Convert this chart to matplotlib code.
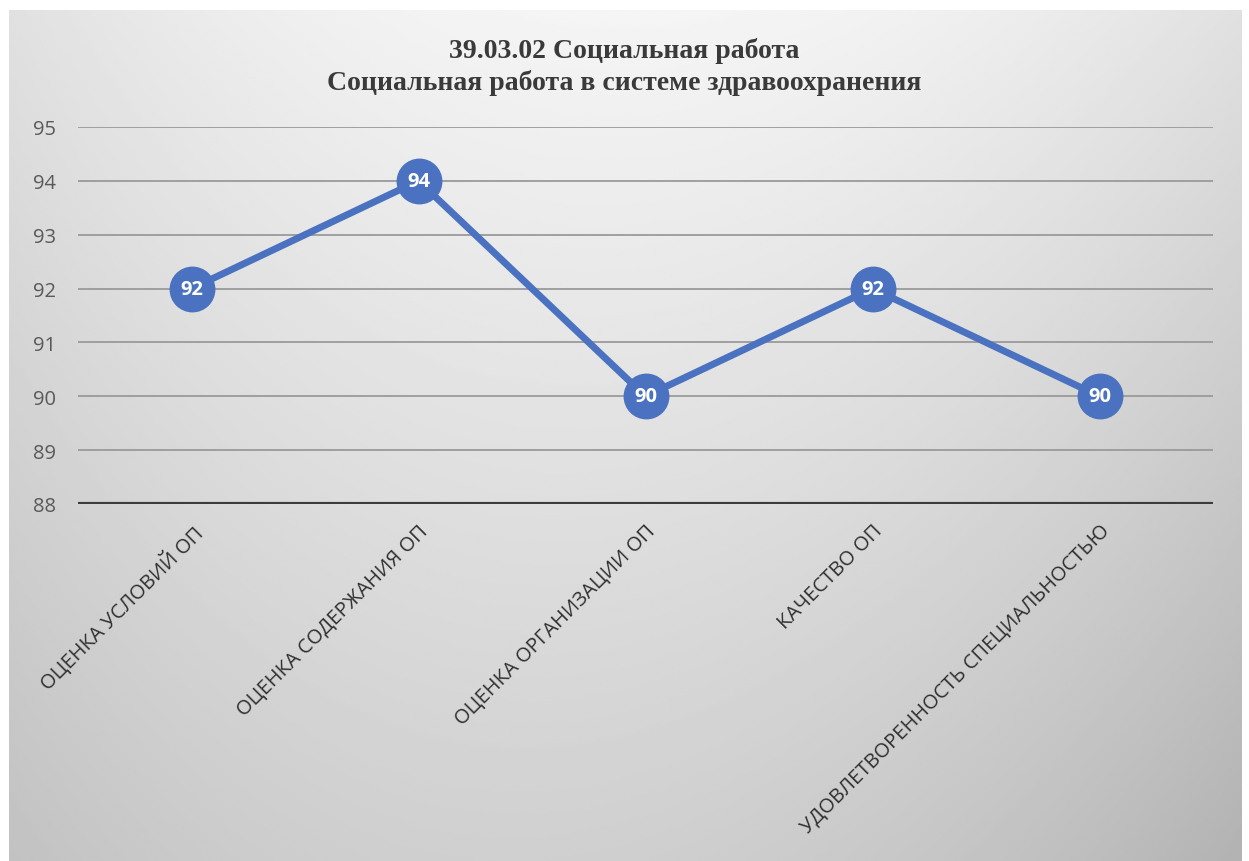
import numpy as np
import matplotlib
matplotlib.use("Agg")
import matplotlib.pyplot as plt

TITLE = "39.03.02 Социальная работа\nСоциальная работа в системе здравоохранения"
CATEGORIES = [
    "ОЦЕНКА УСЛОВИЙ ОП",
    "ОЦЕНКА СОДЕРЖАНИЯ ОП",
    "ОЦЕНКА ОРГАНИЗАЦИИ ОП",
    "КАЧЕСТВО ОП",
    "УДОВЛЕТВОРЕННОСТЬ СПЕЦИАЛЬНОСТЬЮ",
]
VALUES = [92, 94, 90, 92, 90]
Y_TICKS = [88, 89, 90, 91, 92, 93, 94, 95]

W, H = 1249, 862
fig = plt.figure(figsize=(W / 100, H / 100), dpi=100)
fig.patch.set_facecolor("white")

# scanned-paper panel: light in the top centre, greyer towards edges and bottom
bg = fig.add_axes([9 / W, 0, (1242 - 9) / W, 1 - 11 / H])
gx, gy = np.meshgrid(np.linspace(-1, 1, 400), np.linspace(0, 1, 300))
shade = 0.96 - 0.08 * gx ** 2 - 0.12 * gy - 0.03 * gy * (gx + 1)
bg.imshow(shade, cmap="gray", vmin=0, vmax=1, aspect="auto", extent=[0, 1, 0, 1],
          origin="upper", interpolation="bilinear")
bg.set_axis_off()

ax = fig.add_axes([78 / W, 1 - 505 / H, (1213 - 78) / W, (505 - 128) / H])
ax.patch.set_alpha(0)
x = np.arange(len(CATEGORIES))

for yv in Y_TICKS[1:]:
    ax.axhline(yv, color="#9a9a9a", lw=1.3, zorder=1)
ax.axhline(88, color="#3c3c3c", lw=3, zorder=2)

ax.plot(x, VALUES, color="#4a72c0", lw=5, zorder=3, solid_capstyle="round")
ax.plot(x, VALUES, "o", ms=32, color="#4a72c0", zorder=4)
for xi, v in zip(x, VALUES):
    ax.text(xi, v, str(v), ha="center", va="center", color="white",
            fontsize=14.5, fontweight="bold", family="Open Sans", zorder=5)

ax.set_xlim(-0.5, len(CATEGORIES) - 0.5)
ax.set_ylim(88, 95)
ax.set_yticks(Y_TICKS)
ax.set_yticklabels([str(t) for t in Y_TICKS], family="Open Sans", fontsize=14.5, color="#5a5a5a")
ax.set_xticks(x)
ax.set_xticklabels(CATEGORIES, rotation=45, ha="right", rotation_mode="anchor",
                   family="Open Sans", fontsize=14.5, color="#303030")
ax.tick_params(axis="both", length=0)
ax.tick_params(axis="y", pad=16)
ax.tick_params(axis="x", pad=12)
for s in ax.spines.values():
    s.set_visible(False)

fig.text(0.5, 1 - 67 / H, TITLE, ha="center", va="center", family="Liberation Serif",
         fontweight="bold", fontsize=20, color="#3a3a3a", linespacing=1.3)

fig.savefig("out.png", dpi=100)
